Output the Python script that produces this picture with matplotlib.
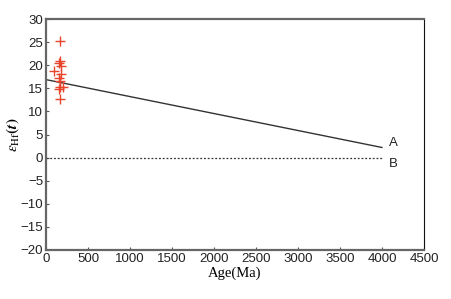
import matplotlib
matplotlib.use("Agg")
import matplotlib.pyplot as plt

plt.rcParams["mathtext.fontset"] = "stix"

# Sample data (age Ma, epsilon Hf(t))
sample_age = [167, 167, 150, 175, 95, 175, 160, 167, 167, 200, 160, 167]
sample_ehf = [25.3, 21.0, 20.4, 19.9, 18.7, 18.2, 17.2, 16.5, 15.4, 15.2, 14.8, 12.6]

# Reference lines
line_a_age = [0, 4000]
line_a_ehf = [16.9, 2.2]
line_b_age = [0, 4000]
line_b_ehf = [0, 0]

xticks = [0, 500, 1000, 1500, 2000, 2500, 3000, 3500, 4000, 4500]
yticks = [-20, -15, -10, -5, 0, 5, 10, 15, 20, 25, 30]

fig = plt.figure(figsize=(4.51, 2.99), dpi=100)
ax = fig.add_axes([0.102, 0.164, 0.838, 0.772])

ax.plot(line_a_age, line_a_ehf, color="#333333", lw=1.0)
ax.plot(line_b_age, line_b_ehf, color="#333333", lw=0.9, ls=(0, (1.5, 1.5)))
ax.scatter(sample_age, sample_ehf, marker="+", s=60, color="#e8452c", lw=1.0, zorder=3)

ax.text(4080, line_a_ehf[1] + 1.0, "A", fontsize=9.5, family="Liberation Sans", va="center", ha="left", color="#222222")
ax.text(4080, -1.3, "B", fontsize=9.5, family="Liberation Sans", va="center", ha="left", color="#222222")

ax.set_xlim(0, 4500)
ax.set_ylim(-20, 30)
ax.set_xticks(xticks)
ax.set_yticks(yticks)
for lab in ax.get_xticklabels() + ax.get_yticklabels():
    lab.set_family("Liberation Sans")
    lab.set_fontsize(9.5)
    lab.set_color("#222222")
ax.tick_params(direction="in", length=2.5, width=0.8, color="#555555", pad=2)

for s in ["left", "bottom", "top"]:
    ax.spines[s].set_color("#666666")
    ax.spines[s].set_linewidth(1.6)
ax.spines["right"].set_color("#111111")
ax.spines["right"].set_linewidth(0.8)

ax.set_xlabel("Age(Ma)", family="Liberation Serif", fontsize=10.5, labelpad=1)
ax.set_ylabel(r"$\varepsilon_{\mathrm{Hf}}\mathbf{(}\boldsymbol{t}\mathbf{)}$", fontsize=11, labelpad=0)

fig.savefig("out.png", dpi=100)
